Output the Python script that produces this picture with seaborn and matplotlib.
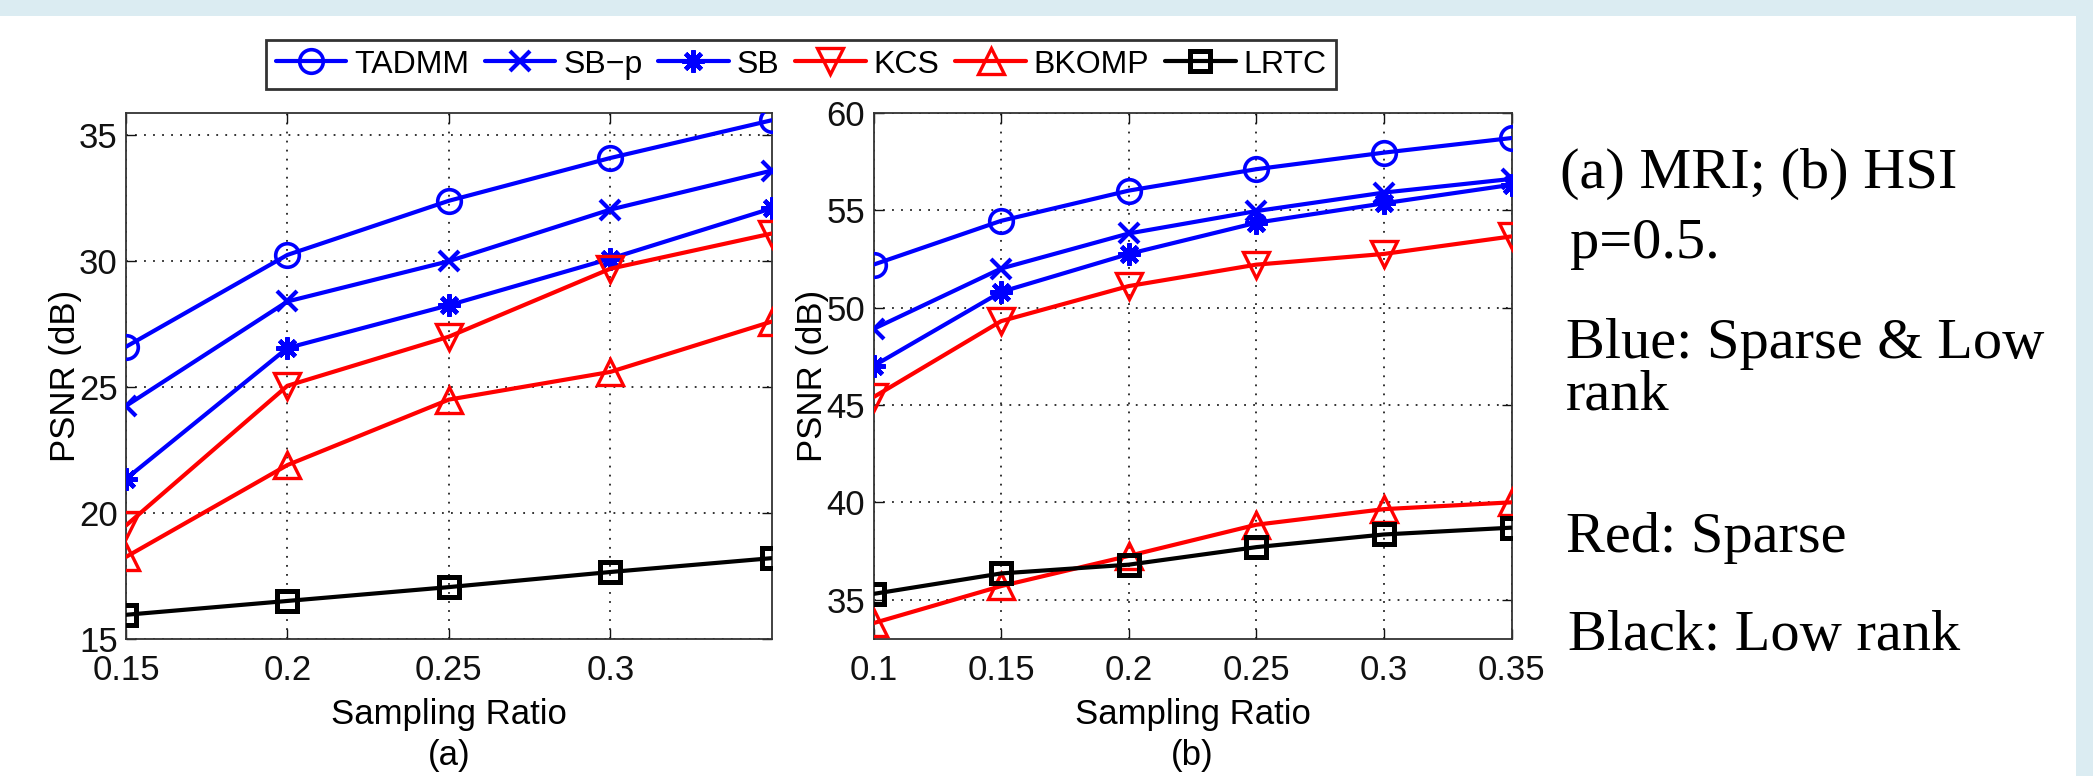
import seaborn as sns
import matplotlib.pyplot as plt
from matplotlib.patches import Rectangle

# method names and drawing style (blue: sparse & low rank, red: sparse, black: low rank)
methods = ["TADMM", "SB\u2212p", "SB", "KCS", "BKOMP", "LRTC"]
colors = ["#0000ff", "#0000ff", "#0000ff", "#ff0000", "#ff0000", "#000000"]
markers = ["o", "x", (8, 2, 0), "v", "^", "s"]

# (a) MRI
ratio_mri = [0.15, 0.2, 0.25, 0.3, 0.35]
mri_tadmm = [26.6, 30.25, 32.4, 34.1, 35.6]
mri_sbp = [24.25, 28.4, 30.0, 32.05, 33.6]
mri_sb = [21.35, 26.55, 28.25, 30.1, 32.1]
mri_kcs = [19.5, 25.05, 27.0, 29.7, 31.1]
mri_bkomp = [18.25, 21.9, 24.5, 25.6, 27.6]
mri_lrtc = [15.95, 16.5, 17.05, 17.65, 18.2]

# (b) HSI
ratio_hsi = [0.1, 0.15, 0.2, 0.25, 0.3, 0.35]
hsi_tadmm = [52.2, 54.45, 56.0, 57.1, 57.95, 58.7]
hsi_sbp = [48.9, 52.0, 53.8, 54.95, 55.9, 56.6]
hsi_sb = [47.0, 50.8, 52.75, 54.35, 55.35, 56.3]
hsi_kcs = [45.4, 49.3, 51.1, 52.2, 52.75, 53.65]
hsi_bkomp = [33.8, 35.7, 37.25, 38.85, 39.65, 40.0]
hsi_lrtc = [35.3, 36.35, 36.8, 37.7, 38.35, 38.7]

mri_ticks = [0.15, 0.2, 0.25, 0.3]
hsi_ticks = [0.1, 0.15, 0.2, 0.25, 0.3, 0.35]

notes = ["(a) MRI; (b) HSI", "p=0.5.", "Blue: Sparse & Low", "rank",
         "Red: Sparse", "Black: Low rank"]


def draw_panel(ax, x, series):
    sizes = [17, 15, 16, 19, 19, 14]
    edges = [2.6, 3.0, 3.2, 2.4, 2.4, 3.6]
    for name, ys, col, mk, ms, mew in zip(methods, series, colors, markers, sizes, edges):
        sns.lineplot(x=x, y=ys, ax=ax, color=col, marker=mk, markersize=ms,
                     markeredgewidth=mew, markerfacecolor="none",
                     markeredgecolor=col, linewidth=3.0, label=name,
                     legend=False, zorder=3)
    ax.grid(True, linestyle=(0, (1, 4)), color="#222222", linewidth=1.3)
    ax.tick_params(direction="in", length=7, width=1, top=True, right=True,
                   labelsize=25, colors="#111111")
    ax.tick_params(axis="x", pad=11)
    ax.tick_params(axis="y", pad=6)
    for sp in ax.spines.values():
        sp.set_color("#333333")
        sp.set_linewidth(1.3)
    ax.set_xlabel("Sampling Ratio", fontsize=25, labelpad=8)
    ax.set_ylabel("PSNR (dB)", fontsize=25, labelpad=-2)


sns.set_style("ticks")
plt.rcParams["font.family"] = ["Liberation Sans", "DejaVu Sans"]
plt.rcParams["text.color"] = "black"
plt.rcParams["axes.labelcolor"] = "black"

fig = plt.figure(figsize=(20.93, 7.76), dpi=100, facecolor="#dbecf2")
fig.patches.append(Rectangle((0, 0), 2076 / 2093, 1 - 16 / 776,
                             transform=fig.transFigure, facecolor="white",
                             edgecolor="none", zorder=-5))

ax1 = fig.add_axes([126 / 2093, 1 - 638.7 / 776, 645.7 / 2093, 526 / 776])
ax2 = fig.add_axes([873.5 / 2093, 1 - 638.7 / 776, 638 / 2093, 526 / 776])

draw_panel(ax1, ratio_mri, [mri_tadmm, mri_sbp, mri_sb, mri_kcs, mri_bkomp, mri_lrtc])
ax1.set_xlim(0.15, 0.35)
ax1.set_ylim(15, 35.9)
ax1.set_xticks(mri_ticks)
ax1.set_xticklabels([f"{t:g}" for t in mri_ticks])
ax1.set_yticks([15, 20, 25, 30, 35])

draw_panel(ax2, ratio_hsi, [hsi_tadmm, hsi_sbp, hsi_sb, hsi_kcs, hsi_bkomp, hsi_lrtc])
ax2.set_xlim(0.1, 0.35)
ax2.set_ylim(33, 60)
ax2.set_xticks(hsi_ticks)
ax2.set_xticklabels([f"{t:g}" for t in hsi_ticks])
ax2.set_yticks([35, 40, 45, 50, 55, 60])

ax1.text(0.5, -0.222, "(a)", transform=ax1.transAxes, ha="center", va="center", fontsize=25)
ax2.text(0.5, -0.222, "(b)", transform=ax2.transAxes, ha="center", va="center", fontsize=25)

handles, labels = ax1.get_legend_handles_labels()
leg = fig.legend(handles, labels, loc="upper left", ncol=6,
                 bbox_to_anchor=(266 / 2093, 1 - 40 / 776), borderaxespad=0,
                 fontsize=23, handlelength=2.2, handletextpad=0.25,
                 columnspacing=0.5, borderpad=0.3, fancybox=False,
                 framealpha=1, edgecolor="#333333")
leg.get_frame().set_linewidth(2)

# text notes on the right
baselines = [188, 258, 358, 410, 552, 650]
lefts = [1560, 1570, 1566, 1566, 1566, 1568]
for txt, yb, xl in zip(notes, baselines, lefts):
    fig.text(xl / 2093, 1 - yb / 776, txt, ha="left", va="baseline",
             fontsize=42, color="black", family=["Liberation Serif", "DejaVu Serif"])

fig.savefig("out.png", dpi=100, facecolor=fig.get_facecolor())
